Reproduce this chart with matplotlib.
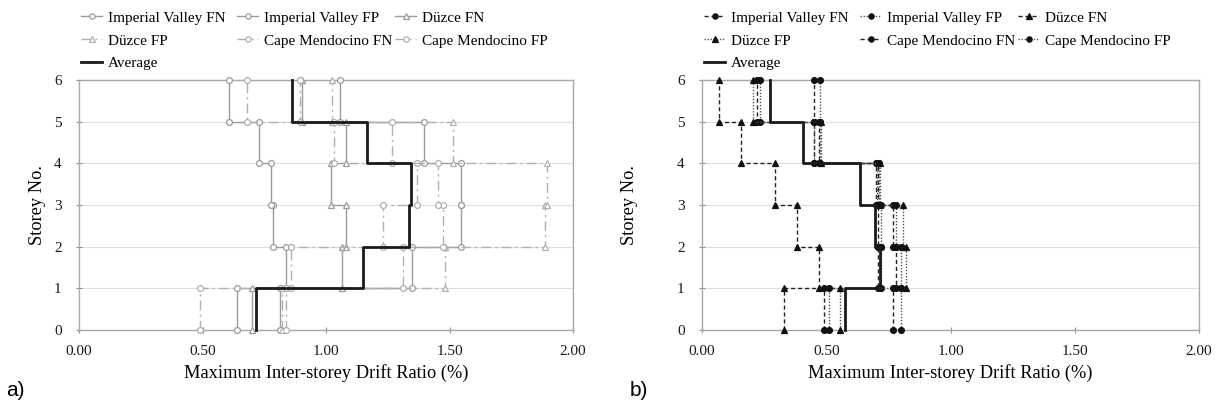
import matplotlib
matplotlib.use('Agg')
import matplotlib.pyplot as plt
import numpy as np

W, H = 1220, 409
plt.rcParams['font.family'] = ['Liberation Serif', 'DejaVu Serif']

storeys = [1, 2, 3, 4, 5, 6]
x_ticks = [0.0, 0.5, 1.0, 1.5, 2.0]
y_ticks = [0, 1, 2, 3, 4, 5, 6]
names = ["Imperial Valley FN", "Imperial Valley FP", "Düzce FN",
         "Düzce FP", "Cape Mendocino FN", "Cape Mendocino FP", "Average"]

# Panel a) drift ratio (%) per storey 1..6
a_iv_fn = [0.814, 0.838, 0.784, 0.776, 0.730, 0.609]
a_iv_fp = [0.638, 1.347, 1.545, 1.545, 1.397, 1.057]
a_dz_fn = [0.699, 1.063, 1.080, 1.019, 1.080, 0.901]
a_dz_fp = [0.820, 1.482, 1.887, 1.894, 1.516, 1.026]
a_cm_fn = [0.490, 0.857, 1.230, 1.370, 1.034, 0.679]
a_cm_fp = [0.838, 1.313, 1.475, 1.455, 1.266, 0.894]
a_avg = [0.717, 1.149, 1.335, 1.345, 1.165, 0.861]

# Panel b) drift ratio (%) per storey 1..6
b_iv_fn = [0.490, 0.710, 0.710, 0.700, 0.450, 0.220]
b_iv_fp = [0.510, 0.720, 0.720, 0.705, 0.452, 0.235]
b_dz_fn = [0.331, 0.471, 0.382, 0.295, 0.157, 0.070]
b_dz_fp = [0.555, 0.820, 0.810, 0.715, 0.478, 0.205]
b_cm_fn = [0.770, 0.780, 0.770, 0.710, 0.470, 0.451]
b_cm_fp = [0.800, 0.800, 0.780, 0.712, 0.475, 0.475]
b_avg = [0.575, 0.716, 0.695, 0.635, 0.408, 0.274]


def step(vals):
    xs = np.repeat(np.asarray(vals, float), 2)
    ys = np.array([[s - 1, s] for s in storeys], float).ravel()
    return xs, ys


fig = plt.figure(figsize=(W / 100, H / 100), dpi=100)

def px_axes(left, right, top, bottom):
    return fig.add_axes([left / W, 1 - bottom / H, (right - left) / W, (bottom - top) / H])

axa = px_axes(79, 573, 80, 330)
axb = px_axes(702, 1199, 80, 330)

GRAY = '#9c9c9c'
LGRAY = '#b0b0b0'
dashdot = (0, (7, 3, 1.5, 3))

styles_a = [
    dict(color=GRAY, ls='-', marker='o'),
    dict(color=GRAY, ls='-', marker='o'),
    dict(color=GRAY, ls='-', marker='^'),
    dict(color=LGRAY, ls=dashdot, marker='^'),
    dict(color=LGRAY, ls=dashdot, marker='o'),
    dict(color=LGRAY, ls=dashdot, marker='o'),
]
data_a = [a_iv_fn, a_iv_fp, a_dz_fn, a_dz_fp, a_cm_fn, a_cm_fp]

dashed = (0, (3, 2))
dotted = (0, (1, 1.2))
styles_b = [
    dict(color='#222222', ls=dashed, marker='o'),
    dict(color='#555555', ls=dotted, marker='o'),
    dict(color='#222222', ls=dashed, marker='^'),
    dict(color='#555555', ls=dotted, marker='^'),
    dict(color='#222222', ls=dashed, marker='o'),
    dict(color='#555555', ls=dotted, marker='o'),
]
data_b = [b_iv_fn, b_iv_fp, b_dz_fn, b_dz_fp, b_cm_fn, b_cm_fp]

handles = {}
for key, ax, data, styles, avg, open_marker in [
        ('a', axa, data_a, styles_a, a_avg, True),
        ('b', axb, data_b, styles_b, b_avg, False)]:
    hs = []
    for vals, st, nm in zip(data, styles, names):
        xs, ys = step(vals)
        c = st['color']
        h, = ax.plot(xs, ys, color=c, ls=st['ls'], lw=1.0,
                     marker=st['marker'], ms=4.2,
                     mfc='white' if open_marker else '#111111',
                     mec=c if open_marker else '#111111', mew=0.9,
                     label=nm, zorder=3)
        hs.append(h)
    xs, ys = step(avg)
    h, = ax.plot(xs, ys, color='#1a1a1a', lw=2.0, label='Average', zorder=4)
    hs.append(h)
    handles[key] = hs

    ax.set_xlim(0, 2)
    ax.set_ylim(0, 6)
    ax.set_xticks(x_ticks)
    ax.set_xticklabels([f"{v:.2f}" for v in x_ticks])
    ax.set_yticks(y_ticks)
    ax.set_yticklabels([str(v) for v in y_ticks])
    ax.tick_params(direction='inout', length=5, width=0.8, color='#909090',
                   labelsize=11, labelcolor='#1a1a1a')
    ax.tick_params(axis='x', pad=8)
    ax.tick_params(axis='y', pad=10)
    ax.yaxis.grid(True, color='#dedede', lw=0.8)
    ax.set_axisbelow(True)
    for sp in ax.spines.values():
        sp.set_color('#a8a8a8')
        sp.set_linewidth(1.0)
    for ln in ax.lines:
        ln.set_clip_on(False)

# Legends (three columns per panel, row-wise order as in reference)
cols = [[0, 3, 6], [1, 4], [2, 5]]
for key, ax_left in [('a', 79), ('b', 702)]:
    hs = handles[key]
    for ci, offs in zip(cols, [2, 158, 316]):
        fig.legend([hs[i] for i in ci], [names[i] for i in ci],
                   loc='upper left',
                   bbox_to_anchor=((ax_left + offs) / W, 1 - 11 / H),
                   frameon=False, fontsize=11, borderpad=0, borderaxespad=0,
                   handlelength=1.4, handletextpad=0.35, labelspacing=0.6,
                   numpoints=1, markerscale=0.9)

for cx, lab in [(326, 'Maximum Inter-storey Drift Ratio (%)'),
                (950, 'Maximum Inter-storey Drift Ratio (%)')]:
    fig.text(cx / W, 1 - 373 / H, lab, ha='center', va='center', fontsize=13.2)
for cx, lab in [(37, 'Storey No.'), (629, 'Storey No.')]:
    fig.text(cx / W, 1 - 205 / H, lab, ha='center', va='center', rotation=90, fontsize=13.2)

fig.text(6 / W, 1 - 390 / H, 'a)', ha='left', va='center', fontsize=15,
         family=['Liberation Sans Narrow', 'Liberation Sans'])
fig.text(630 / W, 1 - 390 / H, 'b)', ha='left', va='center', fontsize=15,
         family=['Liberation Sans Narrow', 'Liberation Sans'])

fig.savefig('out.png', dpi=100)
